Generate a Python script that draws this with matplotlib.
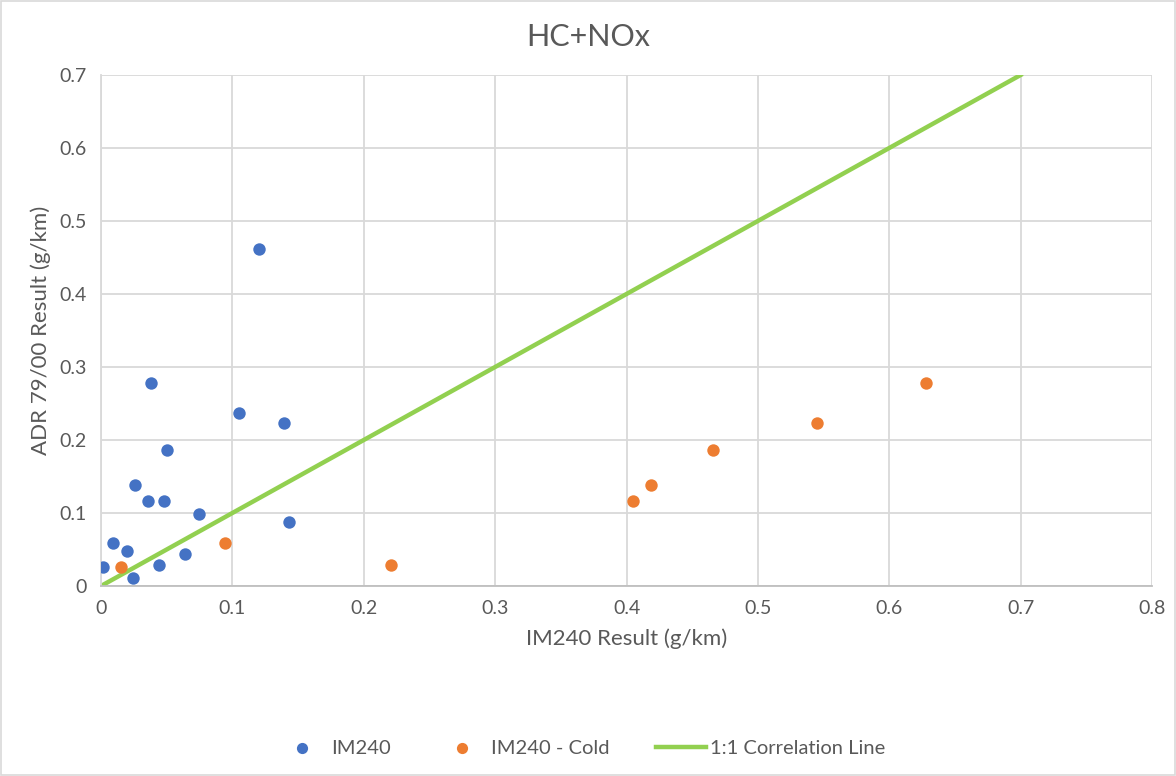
import matplotlib.pyplot as plt
from matplotlib.patches import Rectangle

plt.rcParams['font.family'] = ['Lato', 'DejaVu Sans']

# IM240 (hot) results
im240_x = [0.038, 0.105, 0.139, 0.050, 0.026, 0.036, 0.048, 0.0745, 0.143,
           0.0094, 0.020, 0.064, 0.0013, 0.044, 0.024, 0.120]
im240_y = [0.278, 0.237, 0.223, 0.186, 0.139, 0.117, 0.117, 0.099, 0.088,
           0.059, 0.0475, 0.044, 0.0256, 0.029, 0.0105, 0.462]

# IM240 cold results
cold_x = [0.0155, 0.0946, 0.2206, 0.405, 0.419, 0.466, 0.545, 0.628]
cold_y = [0.0256, 0.059, 0.029, 0.117, 0.139, 0.186, 0.223, 0.278]

line_x = [0, 0.7]
line_y = [0, 0.7]

grey = '#595959'

fig = plt.figure(figsize=(11.76, 7.76), dpi=100)
ax = fig.add_axes([101 / 1176, 1 - 586 / 776, 1051 / 1176, 511 / 776])

ax.scatter(im240_x, im240_y, s=80, color='#4472C4', label='IM240', zorder=3, linewidths=0)
ax.scatter(cold_x, cold_y, s=80, color='#ED7D31', label='IM240 - Cold', zorder=3, linewidths=0)
ax.plot(line_x, line_y, color='#92D050', lw=3.2, label='1:1 Correlation Line', zorder=2)

ax.set_xlim(0, 0.8)
ax.set_ylim(0, 0.7)
ax.set_xticks([i / 10 for i in range(9)])
ax.set_yticks([i / 10 for i in range(8)])
ax.set_xticklabels(['0'] + ['%.1f' % (i / 10) for i in range(1, 9)])
ax.set_yticklabels(['0'] + ['%.1f' % (i / 10) for i in range(1, 8)])
ax.tick_params(length=0, labelsize=14, colors=grey, pad=10)
ax.grid(True, color='#D9D9D9', lw=1.3)
ax.set_axisbelow(True)
for s in ['top', 'right']:
    ax.spines[s].set_visible(False)
ax.spines['left'].set_color('#D9D9D9')
ax.spines['left'].set_linewidth(1.3)
ax.spines['bottom'].set_color('#BFBFBF')
ax.spines['bottom'].set_linewidth(1.3)

ax.set_xlabel('IM240 Result (g/km)', fontsize=16, color=grey, labelpad=8)
ax.set_ylabel('ADR 79/00 Result (g/km)', fontsize=16, color=grey, labelpad=6)
fig.text(0.5, 1 - 37 / 776, 'HC+NOx', fontsize=22, color=grey, ha='center', va='center')

leg = fig.legend(loc='center', bbox_to_anchor=(581 / 1176, 1 - 748 / 776), ncol=3, frameon=False,
                 fontsize=14.5, labelcolor=grey, handlelength=2.5, handletextpad=0.2,
                 columnspacing=2.3, markerscale=0.9)

fig.patches.append(Rectangle((0.001, 0.001), 0.998, 0.998, transform=fig.transFigure,
                             fill=False, edgecolor='#D9D9D9', lw=1.2))

fig.savefig('out.png', dpi=100)
